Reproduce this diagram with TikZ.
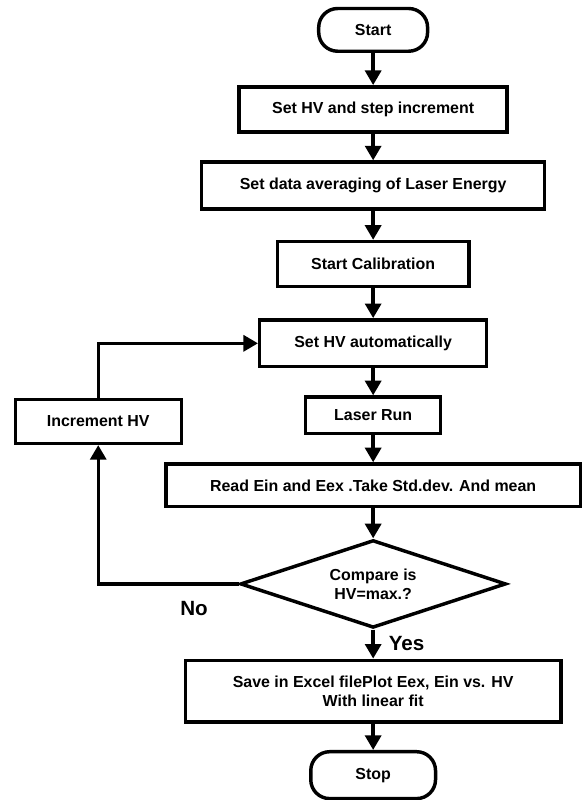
\documentclass[tikz,border=0pt]{standalone}
\usepackage{fontspec}
\setmainfont{Liberation Sans}
\usetikzlibrary{shapes.geometric, positioning, arrows.meta}

\begin{document}
\begin{tikzpicture}[
    font=\bfseries\fontsize{12}{14.2}\selectfont,
    line width=2.6pt,
    terminal/.style={
        draw,
        rounded corners=0.5cm,
        minimum height=1.13cm
    },
    process/.style={
        draw,
        minimum height=1.19cm,
        align=center
    },
    decision/.style={
        draw,
        diamond,
        aspect=3,
        minimum width=7.03cm,
        minimum height=2.32cm,
        align=center,
        inner sep=0pt
    },
    flow_arrow/.style={
        -{Triangle[length=11pt, width=12pt]}
    },
    answer/.style={
        font=\bfseries\fontsize{15.5}{18}\selectfont
    }
]

    \useasboundingbox (-9.87, 0.79) rectangle (5.50, -20.37);

    % Main column
    \node[terminal, minimum width=2.88cm] (start) at (0, 0) {Start};
    \node[process, minimum width=7.09cm, below=0.85cm of start] (set_hv) {Set HV and step increment};
    \node[process, minimum width=9.07cm, minimum height=1.24cm, below=0.71cm of set_hv] (set_avg) {Set data averaging of Laser Energy};
    \node[process, minimum width=5.07cm, below=0.77cm of set_avg] (start_cal) {Start Calibration};
    \node[process, minimum width=6.0cm, minimum height=1.24cm, below=0.79cm of start_cal] (set_auto) {Set HV automatically};
    \node[process, minimum width=3.57cm, minimum height=0.97cm, below=0.71cm of set_auto] (laser_run) {Laser Run};
    \node[process, minimum width=10.97cm, minimum height=1.13cm, below=0.71cm of laser_run] (read_e) {Read Ein and Eex .Take Std.dev. And mean};
    \node[decision, below=0.79cm of read_e] (compare) {Compare is\\HV=max.?};
    \node[process, minimum width=9.94cm, minimum height=1.635cm, below=0.77cm of compare] (save) {Save in Excel filePlot Eex, Ein vs. HV\\With linear fit};
    \node[terminal, minimum width=3.30cm, minimum height=1.24cm, below=0.69cm of save] (stop) {Stop};

    % Loop back
    \node[process, minimum width=4.39cm, minimum height=1.16cm, left=3.2cm of laser_run, yshift=-0.16cm] (incr) {Increment HV};

    % Answers
    \node[answer, below left=0.3cm and 0.65cm of compare.west] (no) {No};
    \node[answer, below right=0.02cm and 0.25cm of compare.south] (yes) {Yes};

    % Arrows
    \draw[flow_arrow] (start) -- (set_hv);
    \draw[flow_arrow] (set_hv) -- (set_avg);
    \draw[flow_arrow] (set_avg) -- (start_cal);
    \draw[flow_arrow] (start_cal) -- (set_auto);
    \draw[flow_arrow] (set_auto) -- (laser_run);
    \draw[flow_arrow] (laser_run) -- (read_e);
    \draw[flow_arrow] (read_e) -- (compare);
    \draw[flow_arrow] (compare) -- (save);
    \draw[flow_arrow] (save) -- (stop);
    \draw[flow_arrow] (incr.north) |- (set_auto.west);
    \draw[flow_arrow] (compare.west) -| (incr.south);

\end{tikzpicture}
\end{document}
